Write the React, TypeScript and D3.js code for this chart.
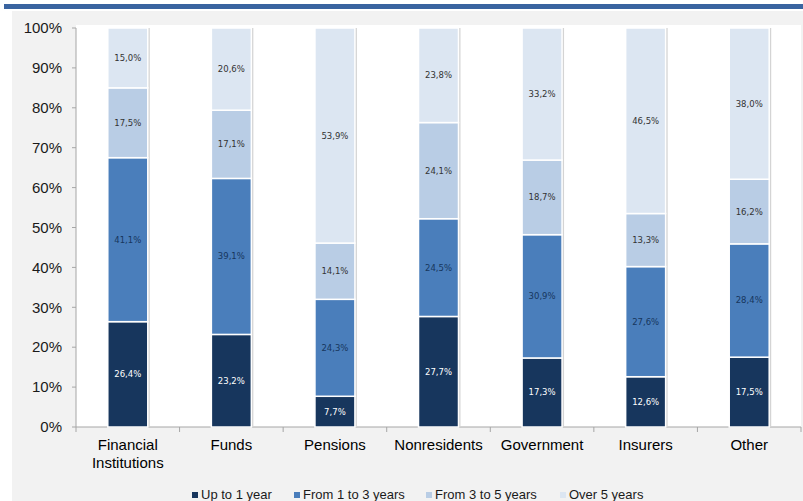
import React from "react";
import * as d3 from "d3";

const categories = ["Financial\nInstitutions", "Funds", "Pensions", "Nonresidents", "Government", "Insurers", "Other"];
const seriesNames = ["Up to 1 year", "From 1 to 3 years", "From 3 to 5 years", "Over 5 years"];
const upTo1 = [26.4, 23.2, 7.7, 27.7, 17.3, 12.6, 17.5];
const from1to3 = [41.1, 39.1, 24.3, 24.5, 30.9, 27.6, 28.4];
const from3to5 = [17.5, 17.1, 14.1, 24.1, 18.7, 13.3, 16.2];
const over5 = [15.0, 20.6, 53.9, 23.8, 33.2, 46.5, 38.0];
const yTicks = [0, 10, 20, 30, 40, 50, 60, 70, 80, 90, 100];

const colors = ["#17365d", "#4a7ebb", "#b9cde5", "#dce6f2"];
const labelColors = ["#ffffff", "#17365d", "#333333", "#333333"];
const legendX = [192, 294, 426, 560];

export default function App() {
  const W = 803, H = 501;
  const left = 76, right = 801, top = 28, bottom = 427;
  const x = d3.scaleBand<number>().domain(d3.range(categories.length)).range([left, right]).paddingInner(0.614).paddingOuter(0.307);
  const y = d3.scaleLinear().domain([0, 100]).range([bottom, top]);
  const series = [upTo1, from1to3, from3to5, over5];
  const rows = categories.map((c, i) => ({ upTo1: upTo1[i], from1to3: from1to3[i], from3to5: from3to5[i], over5: over5[i] }));
  const stack = d3.stack<any>().keys(["upTo1", "from1to3", "from3to5", "over5"])(rows);
  const band = (right - left) / categories.length;
  const font = "'Liberation Sans', Arial, sans-serif";

  return (
    <svg width={W} height={H} style={{ position: "absolute", left: 0, top: 0, background: "#ffffff" }}>
      <rect x={4} y={4} width={799} height={5} fill="#3a64a0" />
      <rect x={12} y={11} width={791} height={490} fill="#f2f2f2" />
      <rect x={left} y={25} width={right - left} height={bottom - 25} fill="#ffffff" />
      {/* y axis */}
      <line x1={left} x2={left} y1={top} y2={bottom} stroke="#a6a6a6" />
      {yTicks.map((t) => (
        <g key={t}>
          <line x1={left - 4} x2={left} y1={y(t)} y2={y(t)} stroke="#a6a6a6" />
          <text x={62} y={y(t)} dy="0.35em" textAnchor="end" fontFamily={font} fontSize={15} fill="#1a1a1a">{t}%</text>
        </g>
      ))}
      {/* x axis */}
      <line x1={left} x2={right} y1={bottom} y2={bottom} stroke="#a6a6a6" />
      {d3.range(categories.length + 1).map((i) => (
        <line key={i} x1={left + i * band} x2={left + i * band} y1={bottom} y2={bottom + 5} stroke="#a6a6a6" />
      ))}
      {/* bars */}
      {categories.map((c, i) => (
        <rect key={"sh" + i} x={(x(i) as number) + 2} y={y(100) } width={x.bandwidth()} height={bottom - y(100)} fill="#d4d4d4" />
      ))}
      {stack.map((s, k) => (
        <g key={k}>
          {s.map((d, i) => {
            const y0 = y(d[0]), y1 = y(Math.min(d[1], 100));
            return (
              <g key={i}>
                <rect x={x(i)} y={y1} width={x.bandwidth()} height={y0 - y1} fill={colors[k]} stroke="#ffffff" strokeWidth={1.5} />
                <text x={(x(i) as number) + x.bandwidth() / 2} y={(y0 + y1) / 2} dy="0.35em" textAnchor="middle" fontFamily="'DejaVu Sans', Verdana, sans-serif" fontSize={8.5} fill={labelColors[k]}>
                  {series[k][i].toFixed(1).replace(".", ",")}%
                </text>
              </g>
            );
          })}
        </g>
      ))}
      {/* category labels */}
      {categories.map((c, i) => (
        <text key={"c" + i} x={(x(i) as number) + x.bandwidth() / 2} y={450} textAnchor="middle" fontFamily={font} fontSize={15} fill="#000000">
          {c.split("\n").map((line, j) => (
            <tspan key={j} x={(x(i) as number) + x.bandwidth() / 2} dy={j === 0 ? 0 : 18}>{line}</tspan>
          ))}
        </text>
      ))}
      {/* legend */}
      {seriesNames.map((n, k) => (
        <g key={n}>
          <rect x={legendX[k]} y={492} width={6} height={6} fill={colors[k]} />
          <text x={legendX[k] + 9} y={499} fontFamily={font} fontSize={13} fill="#1a1a1a">{n}</text>
        </g>
      ))}
    </svg>
  );
}
